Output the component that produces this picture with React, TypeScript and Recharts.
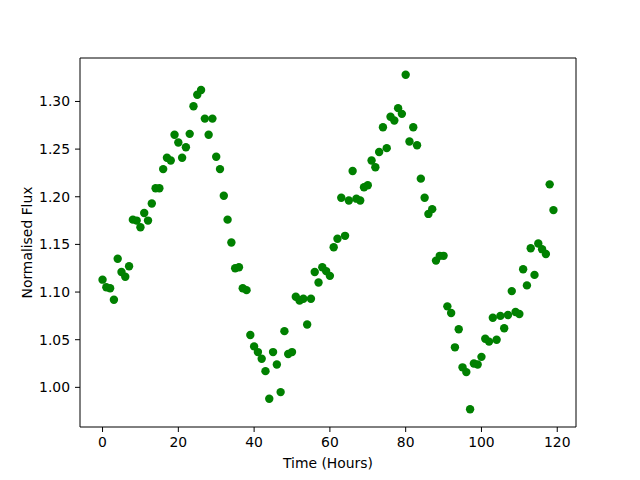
import React from 'react';
import { ScatterChart, Scatter, XAxis, YAxis } from 'recharts';

// hours since start of observation
const hours: number[] = Array.from({ length: 120 }, (_, i) => i);

// normalised flux, one point per hour
const flux: number[] = [
    1.113, 1.105, 1.104, 1.092, 1.135, 1.121, 1.116, 1.127, 1.176, 1.175,
    1.168, 1.183, 1.175, 1.193, 1.209, 1.209, 1.229, 1.241, 1.238, 1.265,
    1.257, 1.241, 1.252, 1.266, 1.295, 1.307, 1.312, 1.282, 1.265, 1.282,
    1.242, 1.229, 1.201, 1.176, 1.152, 1.125, 1.126, 1.104, 1.102, 1.055,
    1.043, 1.037, 1.030, 1.017, 0.988, 1.037, 1.024, 0.995, 1.059, 1.035,
    1.037, 1.095, 1.091, 1.093, 1.066, 1.093, 1.121, 1.110, 1.126, 1.122,
    1.117, 1.147, 1.156, 1.199, 1.159, 1.196, 1.227, 1.198, 1.196, 1.210,
    1.212, 1.238, 1.231, 1.247, 1.273, 1.251, 1.284, 1.280, 1.293, 1.287,
    1.328, 1.258, 1.273, 1.254, 1.219, 1.199, 1.182, 1.187, 1.133, 1.138,
    1.138, 1.085, 1.078, 1.042, 1.061, 1.021, 1.016, 0.977, 1.025, 1.024,
    1.032, 1.051, 1.048, 1.073, 1.050, 1.075, 1.062, 1.076, 1.101, 1.079,
    1.077, 1.124, 1.107, 1.146, 1.118, 1.151, 1.145, 1.140, 1.213, 1.186,
];

const xTicks = [0, 20, 40, 60, 80, 100, 120];
const yTicks = [1.0, 1.05, 1.1, 1.15, 1.2, 1.25, 1.3];

const data = hours.map((h, i) => ({ t: h, f: flux[i] }));

const FONT = '"DejaVu Sans", sans-serif';
const tickStyle = { fill: '#000', fontSize: 13.9, fontFamily: FONT };
const axisLine = { stroke: '#000', strokeWidth: 1 };

// matplotlib pads the data range by 5% on each side
const xMin = -5.95, xMax = 124.95;
const yMin = 0.9584, yMax = 1.3456;

const Dot = (props: any) => <circle cx={props.cx} cy={props.cy} r={4.2} fill="#008000" />;

export default function App() {
    return (
        <div style={{ position: 'absolute', left: 0, top: 0, width: 640, height: 480, background: '#fff' }}>
            <ScatterChart width={640} height={480} margin={{ top: 57, right: 63, bottom: 0, left: 0 }}>
                <XAxis
                    type="number"
                    dataKey="t"
                    domain={[xMin, xMax]}
                    ticks={xTicks}
                    allowDataOverflow
                    height={53}
                    tick={tickStyle}
                    tickSize={5}
                    tickMargin={5}
                    axisLine={axisLine}
                    tickLine={axisLine}
                    label={{ value: 'Time (Hours)', position: 'center', dy: 10, style: { fill: '#000', fontSize: 13.9, fontFamily: FONT } }}
                />
                <XAxis
                    xAxisId="top"
                    orientation="top"
                    type="number"
                    dataKey="t"
                    domain={[xMin, xMax]}
                    ticks={xTicks}
                    allowDataOverflow
                    height={1}
                    tick={false}
                    tickLine={false}
                    axisLine={axisLine}
                />
                <YAxis
                    type="number"
                    dataKey="f"
                    domain={[yMin, yMax]}
                    ticks={yTicks}
                    allowDataOverflow
                    width={80}
                    tick={tickStyle}
                    tickSize={5}
                    tickMargin={5}
                    tickFormatter={(v: number) => v.toFixed(2)}
                    axisLine={axisLine}
                    tickLine={axisLine}
                    label={{ value: 'Normalised Flux', angle: -90, position: 'center', dx: -13, style: { fill: '#000', fontSize: 13.9, fontFamily: FONT, textAnchor: 'middle' } }}
                />
                <YAxis
                    yAxisId="right"
                    orientation="right"
                    type="number"
                    dataKey="f"
                    domain={[yMin, yMax]}
                    ticks={yTicks}
                    allowDataOverflow
                    width={1}
                    tick={false}
                    tickLine={false}
                    axisLine={axisLine}
                />
                <Scatter data={data} shape={Dot} isAnimationActive={false} />
                <Scatter data={[]} xAxisId="top" yAxisId="right" isAnimationActive={false} />
            </ScatterChart>
        </div>
    );
}
